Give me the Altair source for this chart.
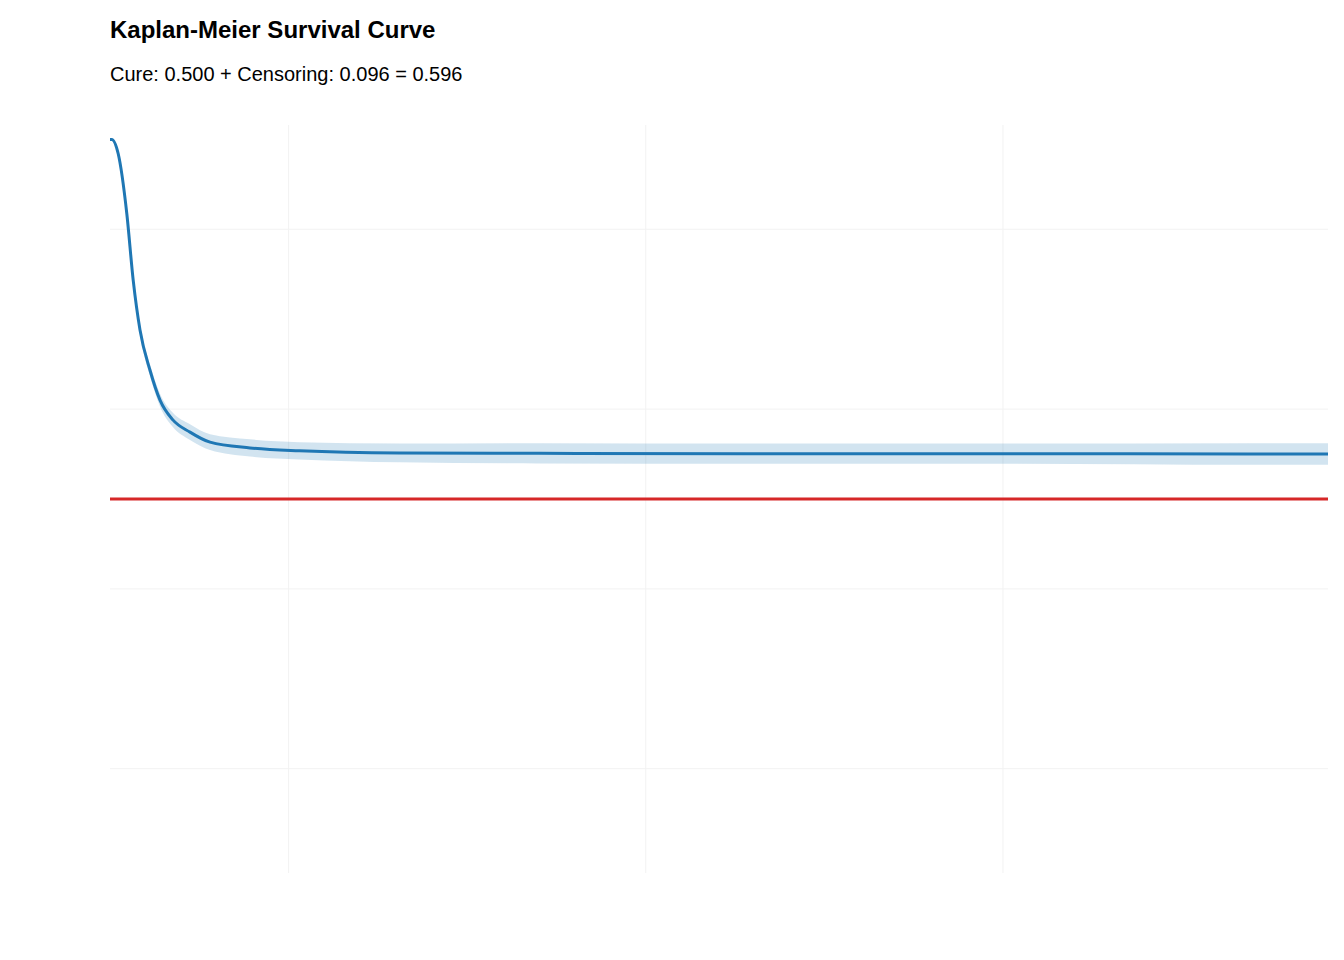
import pandas as pd
import altair as alt

# Kaplan-Meier estimate
time = [0.0, 0.05, 0.23, 0.47, 0.65, 0.84, 1.12, 1.40, 1.76, 2.24, 2.8, 3.92, 5.3, 8.1, 12.0, 18.0, 25.0, 32.0, 34.1]
surv = [1.0, 1.0, 0.98, 0.897, 0.804, 0.735, 0.679, 0.6375, 0.61, 0.593, 0.579, 0.571, 0.567, 0.564, 0.5635, 0.563, 0.563, 0.5625, 0.5625]
half_width = [0.0, 0.001, 0.003, 0.005, 0.006, 0.007, 0.008, 0.009, 0.010, 0.011, 0.011, 0.012, 0.012, 0.013, 0.014, 0.014, 0.014, 0.015, 0.015]
cure_level = 0.5
minor_x = [5, 15, 25]
minor_y = [0.125, 0.375, 0.625, 0.875]

df = pd.DataFrame({"time": time, "surv": surv})
df["lower"] = [s - h for s, h in zip(surv, half_width)]
df["upper"] = [s + h for s, h in zip(surv, half_width)]

font = "Liberation Sans"
xscale = alt.Scale(domain=[0, 34.1], nice=False, zero=False)
yscale = alt.Scale(domain=[-0.02, 1.02], nice=False)

minor_v = alt.Chart(pd.DataFrame({"x": minor_x})).mark_rule(color="#f2f2f2", strokeWidth=1).encode(
    x=alt.X("x:Q", scale=xscale, axis=None)
)
minor_h = alt.Chart(pd.DataFrame({"y": minor_y})).mark_rule(color="#f2f2f2", strokeWidth=1).encode(
    y=alt.Y("y:Q", scale=yscale, axis=None)
)

base = alt.Chart(df)

band = base.mark_area(color="#1f77b4", opacity=0.2, interpolate="monotone").encode(
    x=alt.X("time:Q", scale=xscale,
            axis=alt.Axis(values=[0, 10, 20, 30], title="Time", grid=True, gridColor="#ebebeb",
                          gridWidth=1.4, domain=False, ticks=False, labelPadding=14,
                          labelFontSize=16, labelColor="#4d4d4d", titleFontSize=20,
                          titleFontWeight="bold", titleColor="black", titlePadding=6, labelFont=font, titleFont=font)),
    y=alt.Y("lower:Q", scale=yscale,
            axis=alt.Axis(values=[0, 0.25, 0.5, 0.75, 1.0], format=".2f", title="Survival Probability",
                          grid=True, gridColor="#ebebeb", gridWidth=1.4, domain=False, ticks=False,
                          labelPadding=12, labelFontSize=16, labelColor="#4d4d4d", titleFontSize=20,
                          titleFontWeight="bold", titleColor="black", titlePadding=28, labelFont=font, titleFont=font)),
    y2="upper:Q",
)

line = base.mark_line(color="#1f77b4", strokeWidth=3, interpolate="monotone").encode(
    x=alt.X("time:Q", scale=xscale, axis=None), y=alt.Y("surv:Q", scale=yscale, axis=None)
)

cure = alt.Chart(pd.DataFrame({"y": [cure_level]})).mark_rule(color="#d62728", strokeWidth=3).encode(
    y=alt.Y("y:Q", scale=yscale, axis=None)
)

chart = alt.layer(minor_v, minor_h, band, line, cure).properties(
    width=1218, height=748,
    autosize=alt.AutoSizeParams(type="none"),
    padding={"left": 102, "top": 117, "right": 8, "bottom": 80},
    title=alt.TitleParams("Kaplan-Meier Survival Curve",
                          subtitle="Cure: 0.500 + Censoring: 0.096 = 0.596",
                          anchor="start", frame="group", font=font, fontSize=24, fontWeight="bold",
                          color="black", subtitleFont=font, subtitleFontSize=20, subtitleColor="black",
                          subtitlePadding=22, offset=40),
).configure_view(stroke=None)

chart.save("out.html", embed_options={"renderer": "svg", "actions": False})
